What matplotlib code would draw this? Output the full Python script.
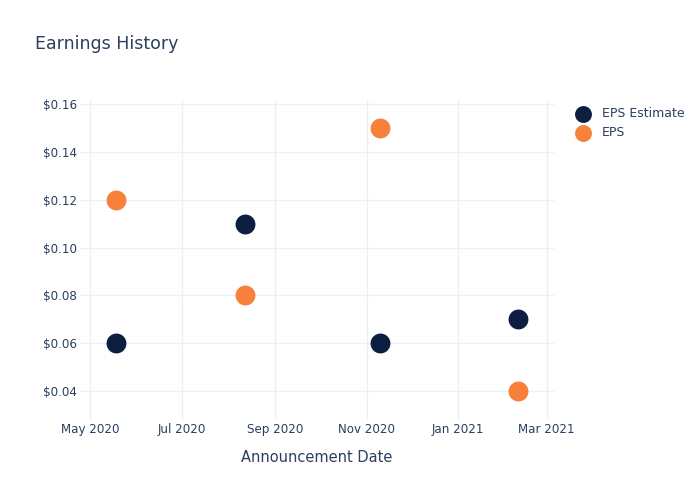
import matplotlib
matplotlib.use("Agg")
import matplotlib.pyplot as plt
import matplotlib.dates as mdates
import pandas as pd

dates = ["2020-05-18", "2020-08-12", "2020-11-10", "2021-02-10"]
eps_estimate = [0.06, 0.11, 0.06, 0.07]
eps_actual = [0.12, 0.08, 0.15, 0.04]
series_names = ["EPS Estimate", "EPS"]
tick_dates = ["2020-05-01", "2020-07-01", "2020-09-01", "2020-11-01", "2021-01-01", "2021-03-01"]
y_ticks = [0.04, 0.06, 0.08, 0.10, 0.12, 0.14, 0.16]

TEXT = "#2a3f5f"
GRID = "#ebf0f8"
NAVY = "#0c1f41"
ORANGE = "#f7813a"

plt.rcParams['font.family'] = ['DejaVu Sans']

x = pd.to_datetime(dates)
fig = plt.figure(figsize=(7, 5), dpi=100)
ax = fig.add_axes([80 / 700, 80 / 500, 474 / 700, 320 / 500])

ax.scatter(x, eps_estimate, s=205, color=NAVY, label=series_names[0], zorder=3, linewidths=0)
ax.scatter(x, eps_actual, s=205, color=ORANGE, label=series_names[1], zorder=3, linewidths=0)

ax.set_xlim(pd.Timestamp("2020-04-24 02:00"), pd.Timestamp("2021-03-05 22:00"))
ax.set_ylim(0.0279, 0.1617)

ax.set_xticks(pd.to_datetime(tick_dates))
ax.xaxis.set_major_formatter(mdates.DateFormatter("%b %Y"))
ax.set_yticks(y_ticks)
ax.set_yticklabels([f"${v:.2f}" for v in y_ticks])

for s in ax.spines.values():
    s.set_visible(False)
ax.grid(True, color=GRID, linewidth=1)
ax.set_axisbelow(True)
ax.tick_params(length=0, labelsize=8.6, colors=TEXT)
ax.tick_params(axis='y', pad=2)
ax.tick_params(axis='x', pad=2.5)

ax.set_xlabel("Announcement Date", fontsize=10.5, color=TEXT, labelpad=9.5)
fig.text(35 / 700, 1 - 44 / 500, "Earnings History", fontsize=12.5, color=TEXT, va='center', ha='left')

leg = ax.legend(loc='upper left', bbox_to_anchor=(567 / 700, 1 - 101 / 500), bbox_transform=fig.transFigure,
                frameon=False, fontsize=9, labelcolor=TEXT, markerscale=0.85, handletextpad=0.7,
                labelspacing=0.48, borderpad=0, handlelength=1.6)

fig.savefig("out.png", dpi=100)
